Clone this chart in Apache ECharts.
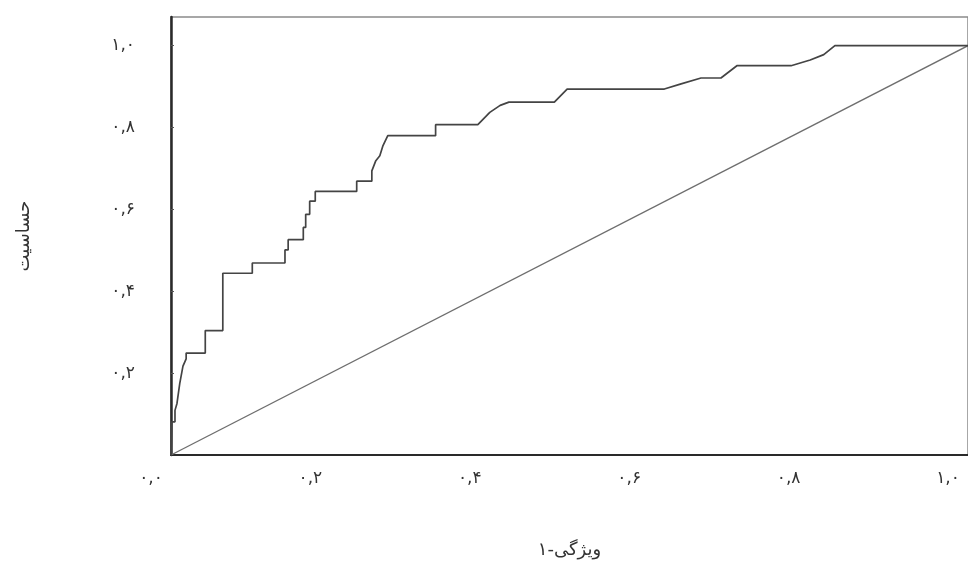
<!DOCTYPE html>
<html>
<head>
<meta charset="utf-8">
<script src="https://cdn.jsdelivr.net/npm/echarts@6/dist/echarts.min.js"></script>
<style>
html,body{margin:0;padding:0;background:#fff;}
#chart{width:968px;height:566px;}
</style>
</head>
<body>
<div id="chart"></div>
<script>
// ROC curve: 1 - specificity (x) vs sensitivity (y)
const fprValues = [0, 0.001, 0.005, 0.005, 0.0075, 0.011, 0.015, 0.019, 0.019, 0.043, 0.043, 0.065, 0.065, 0.102, 0.102, 0.143, 0.143, 0.147, 0.147, 0.166, 0.166, 0.169, 0.169, 0.174, 0.174, 0.181, 0.181, 0.233, 0.233, 0.252, 0.252, 0.257, 0.262, 0.266, 0.272, 0.332, 0.332, 0.385, 0.400, 0.413, 0.424, 0.481, 0.497, 0.619, 0.639, 0.665, 0.690, 0.710, 0.778, 0.802, 0.819, 0.833, 1.0];
const tprValues = [0, 0.081, 0.081, 0.109, 0.126, 0.175, 0.217, 0.235, 0.249, 0.249, 0.304, 0.304, 0.444, 0.444, 0.469, 0.469, 0.501, 0.501, 0.526, 0.526, 0.556, 0.556, 0.588, 0.588, 0.620, 0.620, 0.644, 0.644, 0.669, 0.669, 0.694, 0.719, 0.731, 0.756, 0.780, 0.780, 0.807, 0.807, 0.837, 0.854, 0.862, 0.862, 0.894, 0.894, 0.906, 0.921, 0.921, 0.951, 0.951, 0.965, 0.978, 1.0, 1.0];
const refX = [0, 1];
const refY = [0, 1];
const xTickValues = [0, 0.2, 0.4, 0.6, 0.8, 1.0];
const xTickLabels = ['۰,۰', '۰,۲', '۰,۴', '۰,۶', '۰,۸', '۱,۰'];
const yTickValues = [0.2, 0.4, 0.6, 0.8, 1.0];
const yTickLabels = ['۰,۲', '۰,۴', '۰,۶', '۰,۸', '۱,۰'];
const xAxisTitle = 'ویژگی-۱';
const yAxisTitle = 'حساسیت';

function labelFor(values, labels) {
  return function (v) {
    for (let i = 0; i < values.length; i++) {
      if (Math.abs(values[i] - v) < 1e-6) return labels[i];
    }
    return '';
  };
}

const chart = echarts.init(document.getElementById('chart'), null, {renderer: 'canvas'});
const fontFam = '"DejaVu Sans", "Noto Sans", sans-serif';
chart.setOption({
  animation: false,
  backgroundColor: '#ffffff',
  grid: {
    left: 171, right: 0, top: 17, bottom: 111,
    show: true, borderColor: '#8a8a8a', borderWidth: 1.5, backgroundColor: 'transparent'
  },
  xAxis: {
    type: 'value', min: 0, max: 1,
    name: xAxisTitle, nameLocation: 'middle', nameGap: 86,
    nameTextStyle: {fontSize: 18, color: '#333', fontFamily: fontFam},
    axisLine: {show: true, onZero: false, lineStyle: {color: '#2a2a2a', width: 2}},
    axisTick: {show: false},
    splitLine: {show: false},
    axisLabel: {
      customValues: xTickValues,
      formatter: labelFor(xTickValues, xTickLabels),
      color: '#333', fontSize: 17, fontFamily: fontFam, margin: 15,
      padding: [0, 40, 0, 0]
    }
  },
  yAxis: {
    type: 'value', min: 0, max: 1.07,
    name: yAxisTitle, nameLocation: 'middle', nameGap: 138, nameRotate: 90,
    nameTextStyle: {fontSize: 18, color: '#333', fontFamily: fontFam},
    axisLine: {show: true, onZero: false, lineStyle: {color: '#2a2a2a', width: 2.5}},
    axisTick: {show: true, inside: true, length: 3, customValues: yTickValues, lineStyle: {color: '#555'}},
    splitLine: {show: false},
    axisLabel: {
      customValues: yTickValues,
      formatter: labelFor(yTickValues, yTickLabels),
      color: '#333', fontSize: 17, fontFamily: fontFam, margin: 36,
      padding: [8, 0, 0, 0]
    }
  },
  series: [
    {
      type: 'line',
      data: refX.map((x, i) => [x, refY[i]]),
      showSymbol: false,
      lineStyle: {color: '#6e6e6e', width: 1.3},
      z: 2
    },
    {
      type: 'line',
      data: fprValues.map((x, i) => [x, tprValues[i]]),
      showSymbol: false,
      lineStyle: {color: '#444444', width: 1.7},
      z: 3
    }
  ]
});
</script>
</body>
</html>
